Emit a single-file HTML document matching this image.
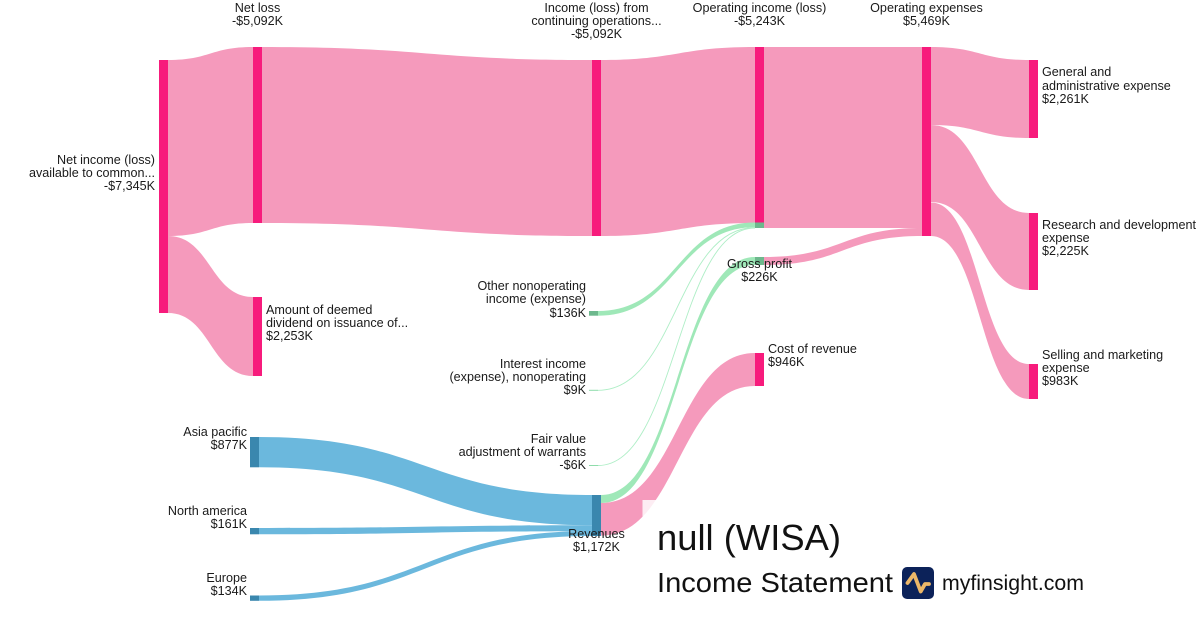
<!DOCTYPE html>
<html>
<head>
<meta charset="utf-8">
<style>
html,body{margin:0;padding:0;background:#fff;width:1200px;height:630px;overflow:hidden}
svg{display:block}
text{font-family:"Liberation Sans",sans-serif;font-size:12.6px;fill:#1a1a1a}
.m{text-anchor:middle}.e{text-anchor:end}
.p{fill:#f59abc}.b{fill:#6bb8dd}.g{fill:#9fe8b8}
</style>
</head>
<body>
<svg width="1200" height="630" viewBox="0 0 1200 630" xmlns="http://www.w3.org/2000/svg">
<!-- pink links -->
<path class="p" d="M168 60C210.500 60 210.500 47 253 47L253 223C210.500 223 210.500 236 168 236Z"/>
<path class="p" d="M168 236C210.500 236 210.500 297 253 297L253 376C210.500 376 210.500 313 168 313Z"/>
<path class="p" d="M262 47C427 47 427 60 592 60L592 236C427 236 427 223 262 223Z"/>
<path class="p" d="M601 60C678 60 678 47 755 47L755 223C678 223 678 236 601 236Z"/>
<rect class="p" x="764" y="47" width="158" height="181"/>
<path class="p" d="M764 257C843 257 843 228 922 228L922 236C843 236 843 265 764 265Z"/>
<path class="p" d="M931 47C980 47 980 60 1029 60L1029 138C980 138 980 125 931 125Z"/>
<path class="p" d="M931 125C980 125 980 213 1029 213L1029 290C980 290 980 202 931 202Z"/>
<path class="p" d="M931 202.500C980 202.500 980 364 1029 364L1029 399C980 399 980 236 931 236Z"/>
<path class="p" d="M601 503C678 503 678 353 755 353L755 386C678 386 678 535.600 601 535.600Z"/>
<!-- green links -->
<path class="g" d="M601 495C678 495 678 257 755 257L755 265C678 265 678 503 601 503Z"/>
<path class="g" d="M598 311C676.500 311 676.500 222.500 755 222.500L755 227.200C676.500 227.200 676.500 315.700 598 315.700Z"/>
<path fill="none" stroke="#aeeec6" stroke-width=".9" d="M598 390.300C676.500 390.300 676.500 227.500 755 227.500"/>
<path fill="none" stroke="#aeeec6" stroke-width=".9" d="M598 465.500C676.500 465.500 676.500 228 755 228"/>
<!-- blue links -->
<path class="b" d="M259 437C425.500 437 425.500 495 592 495L592 525.300C425.500 525.300 425.500 467.300 259 467.300Z"/>
<path class="b" d="M259 528C425.500 528 425.500 525.300 592 525.300L592 531.200C425.500 531.200 425.500 534.300 259 534.300Z"/>
<path class="b" d="M259 595.500C425.500 595.500 425.500 531 592 531L592 536C425.500 536 425.500 600.800 259 600.800Z"/>
<!-- pink nodes -->
<g fill="#f71b7c">
<rect x="159" y="60" width="9" height="253"/>
<rect x="253" y="47" width="9" height="176"/>
<rect x="253" y="297" width="9" height="79"/>
<rect x="592" y="60" width="9" height="176"/>
<rect x="755" y="47" width="9" height="176"/>
<rect x="922" y="47" width="9" height="189"/>
<rect x="1029" y="60" width="9" height="78"/>
<rect x="1029" y="213" width="9" height="77"/>
<rect x="1029" y="364" width="9" height="35"/>
<rect x="755" y="353" width="9" height="33"/>
</g>
<!-- green nodes -->
<g fill="#6db88d">
<rect x="755" y="222.500" width="9" height="5.500"/>
<rect x="755" y="257" width="9" height="8"/>
<rect x="589" y="311" width="9" height="4.700"/>
</g>
<rect x="589" y="389.800" width="9" height="1" fill="#8fdcab"/>
<rect x="589" y="465" width="9" height="1" fill="#8fdcab"/>
<!-- blue nodes -->
<g fill="#3a87ae">
<rect x="592" y="495" width="9" height="41"/>
<rect x="250" y="437" width="9" height="30.300"/>
<rect x="250" y="528" width="9" height="6.300"/>
<rect x="250" y="595.500" width="9" height="5.300"/>
</g>
<!-- title overlay -->
<rect x="642.500" y="500" width="558" height="130" fill="#fff" fill-opacity=".82"/>
<!-- labels -->
<text class="m" x="257.500" y="12">Net loss</text>
<text class="m" x="257.500" y="25">-$5,092K</text>
<text class="m" x="596.500" y="12">Income (loss) from</text>
<text class="m" x="596.500" y="25">continuing operations...</text>
<text class="m" x="596.500" y="38">-$5,092K</text>
<text class="m" x="759.500" y="12">Operating income (loss)</text>
<text class="m" x="759.500" y="25">-$5,243K</text>
<text class="m" x="926.500" y="12">Operating expenses</text>
<text class="m" x="926.500" y="25">$5,469K</text>
<text x="1042" y="76">General and</text>
<text x="1042" y="90">administrative expense</text>
<text x="1042" y="103">$2,261K</text>
<text x="1042" y="229">Research and development</text>
<text x="1042" y="242">expense</text>
<text x="1042" y="255">$2,225K</text>
<text x="1042" y="359">Selling and marketing</text>
<text x="1042" y="372">expense</text>
<text x="1042" y="385">$983K</text>
<text x="266" y="314">Amount of deemed</text>
<text x="266" y="327">dividend on issuance of...</text>
<text x="266" y="340">$2,253K</text>
<text class="e" x="155" y="164">Net income (loss)</text>
<text class="e" x="155" y="177">available to common...</text>
<text class="e" x="155" y="190">-$7,345K</text>
<text class="e" x="586" y="290">Other nonoperating</text>
<text class="e" x="586" y="303">income (expense)</text>
<text class="e" x="586" y="317">$136K</text>
<text class="e" x="586" y="368">Interest income</text>
<text class="e" x="586" y="381">(expense), nonoperating</text>
<text class="e" x="586" y="394">$9K</text>
<text class="e" x="586" y="443">Fair value</text>
<text class="e" x="586" y="456">adjustment of warrants</text>
<text class="e" x="586" y="469">-$6K</text>
<text class="e" x="247" y="436">Asia pacific</text>
<text class="e" x="247" y="449">$877K</text>
<text class="e" x="247" y="515">North america</text>
<text class="e" x="247" y="528">$161K</text>
<text class="e" x="247" y="582">Europe</text>
<text class="e" x="247" y="595">$134K</text>
<text class="m" x="596.500" y="538">Revenues</text>
<text class="m" x="596.500" y="551">$1,172K</text>
<text class="m" x="759.500" y="268">Gross profit</text>
<text class="m" x="759.500" y="281">$226K</text>
<text x="768" y="353">Cost of revenue</text>
<text x="768" y="366">$946K</text>
<!-- title -->
<text x="657" y="550" style="font-size:36px;fill:#111" textLength="184" lengthAdjust="spacingAndGlyphs">null (WISA)</text>
<text x="657" y="592" style="font-size:28px;fill:#111" textLength="236" lengthAdjust="spacingAndGlyphs">Income Statement</text>
<rect x="902" y="567" width="32" height="32" rx="5" fill="#0c2259"/>
<polyline points="907.500,583 914,574 920.700,591.500 925,584 929,584" fill="none" stroke="#ecb768" stroke-width="3.800" stroke-linecap="round" stroke-linejoin="round"/>
<text x="942" y="590" style="font-size:21px;fill:#111" textLength="142" lengthAdjust="spacingAndGlyphs">myfinsight.com</text>
</svg>
</body>
</html>
